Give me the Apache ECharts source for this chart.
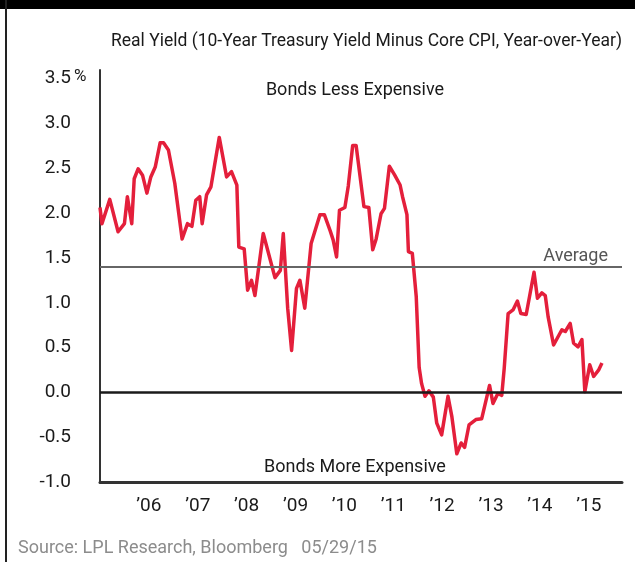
<!DOCTYPE html>
<html>
<head>
<meta charset="utf-8">
<title>Real Yield</title>
<script src="https://cdn.jsdelivr.net/npm/echarts@6/dist/echarts.min.js"></script>
<style>
  html, body { margin: 0; padding: 0; background: #fff; }
  #chart { width: 635px; height: 562px; }
</style>
</head>
<body>
<div id="chart"></div>
<script>
// x positions as decimal years, values in %
const dates = [
  2005.00, 2005.04, 2005.20, 2005.37, 2005.50, 2005.56, 2005.65, 2005.70, 2005.78, 2005.87, 2005.96,
  2006.04, 2006.13, 2006.23, 2006.30, 2006.40, 2006.53, 2006.68, 2006.79, 2006.88, 2006.96,
  2007.04, 2007.09, 2007.18, 2007.27, 2007.44, 2007.59, 2007.69, 2007.80, 2007.84, 2007.95,
  2008.02, 2008.10, 2008.17, 2008.34, 2008.58, 2008.69, 2008.75, 2008.84, 2008.92,
  2009.02, 2009.09, 2009.19, 2009.32, 2009.50, 2009.59, 2009.71, 2009.77, 2009.84, 2009.90,
  2010.01, 2010.08, 2010.17, 2010.24, 2010.40, 2010.50, 2010.58, 2010.65, 2010.75, 2010.82, 2010.92,
  2011.03, 2011.14, 2011.19, 2011.28, 2011.31, 2011.39, 2011.47, 2011.53, 2011.58, 2011.65, 2011.73, 2011.82, 2011.89, 2011.99,
  2012.12, 2012.20, 2012.30, 2012.39, 2012.46, 2012.55, 2012.69, 2012.81, 2012.97,
  2013.04, 2013.14, 2013.22, 2013.27, 2013.35, 2013.45, 2013.54, 2013.61, 2013.72, 2013.88, 2013.95,
  2014.04, 2014.11, 2014.17, 2014.28, 2014.45, 2014.52, 2014.62, 2014.69, 2014.78, 2014.86, 2014.92,
  2015.02, 2015.10, 2015.20, 2015.27
];
const realYield = [
  2.06, 1.88, 2.15, 1.79, 1.88, 2.18, 1.88, 2.38, 2.49, 2.42, 2.22,
  2.40, 2.51, 2.78, 2.78, 2.70, 2.33, 1.71, 1.88, 1.85, 2.14,
  2.18, 1.88, 2.20, 2.29, 2.84, 2.40, 2.46, 2.31, 1.62, 1.60,
  1.14, 1.25, 1.08, 1.77, 1.28, 1.36, 1.77, 0.94, 0.47,
  1.16, 1.25, 0.94, 1.66, 1.98, 1.98, 1.80, 1.70, 1.51, 2.03,
  2.06, 2.30, 2.75, 2.75, 2.07, 2.06, 1.59, 1.71, 1.99, 2.05, 2.52,
  2.42, 2.31, 2.18, 1.98, 1.57, 1.55, 1.07, 0.28, 0.10, -0.04, 0.02, -0.05, -0.34, -0.47,
  -0.04, -0.27, -0.68, -0.56, -0.61, -0.36, -0.30, -0.29, 0.08,
  -0.12, -0.01, -0.03, 0.27, 0.88, 0.92, 1.02, 0.88, 0.87, 1.34, 1.05,
  1.11, 1.08, 0.84, 0.53, 0.70, 0.68, 0.77, 0.55, 0.51, 0.59, 0.01,
  0.31, 0.18, 0.25, 0.33
];
const tickYears = [2006, 2007, 2008, 2009, 2010, 2011, 2012, 2013, 2014, 2015];
const tickLabels = ['\u201906', '\u201907', '\u201908', '\u201909', '\u201910', '\u201911', '\u201912', '\u201913', '\u201914', '\u201915'];
const average = 1.4;

const font = 'Roboto';
const chart = echarts.init(document.getElementById('chart'));

chart.setOption({
  animation: false,
  backgroundColor: '#fff',
  grid: { left: 100, right: 13, top: 70, bottom: 79.5 },
  xAxis: {
    type: 'value',
    min: 2005,
    max: 2015.68,
    interval: 1,
    axisLine: { show: true, onZero: false, lineStyle: { color: '#333', width: 3 } },
    axisTick: { show: false },
    splitLine: { show: false },
    axisLabel: {
      margin: 14,
      color: '#1a1a1a',
      fontFamily: font,
      fontSize: 19,
      formatter: function (v) {
        const k = tickYears.indexOf(Math.round(v));
        return (Math.abs(v - Math.round(v)) < 1e-6 && k >= 0) ? tickLabels[k] : '';
      }
    }
  },
  yAxis: {
    type: 'value',
    min: -1,
    max: 3.59,
    interval: 0.5,
    axisLine: { show: true, lineStyle: { color: '#333', width: 2 } },
    axisTick: { show: false },
    splitLine: { show: false },
    axisLabel: {
      margin: 29,
      color: '#1a1a1a',
      fontFamily: font,
      fontSize: 19,
      formatter: function (v) {
        return Math.abs(v * 2 - Math.round(v * 2)) < 1e-6 ? v.toFixed(1) : '';
      }
    }
  },
  series: [
    {
      // reference lines
      type: 'line',
      data: [],
      z: 1,
      markLine: {
        silent: true,
        symbol: ['none', 'none'],
        label: { show: false },
        data: [
          { yAxis: 0, lineStyle: { color: '#1a1a1a', width: 2.5, type: 'solid' } },
          {
            yAxis: average,
            lineStyle: { color: '#666', width: 2, type: 'solid' },
            label: {
              show: true,
              position: 'insideEndTop',
              formatter: 'Average',
              color: '#555',
              fontFamily: font,
              fontSize: 18,
              distance: [14, 1]
            }
          }
        ]
      }
    },
    {
      name: 'Real Yield',
      type: 'line',
      z: 3,
      showSymbol: false,
      data: dates.map((d, i) => [d, realYield[i]]),
      lineStyle: { color: '#e41f3b', width: 3.5, join: 'round' }
    }
  ],
  graphic: [
    { type: 'rect', shape: { x: 0, y: 0, width: 635, height: 9 }, style: { fill: '#000' } },
    { type: 'rect', shape: { x: 5, y: 0, width: 2, height: 562 }, style: { fill: '#222' } },
    {
      type: 'text', left: 111, top: 33,
      style: { text: 'Real Yield (10-Year Treasury Yield Minus Core CPI, Year-over-Year)', fill: '#1a1a1a', font: '17.5px Roboto' }
    },
    {
      type: 'text', left: 74, top: 68,
      style: { text: '%', fill: '#1a1a1a', font: '17px Roboto' }
    },
    {
      type: 'text', x: 355, y: 90,
      style: { text: 'Bonds Less Expensive', fill: '#1a1a1a', font: '18px Roboto', align: 'center', verticalAlign: 'middle' }
    },
    {
      type: 'text', x: 355, y: 467,
      style: { text: 'Bonds More Expensive', fill: '#1a1a1a', font: '18px Roboto', align: 'center', verticalAlign: 'middle' }
    },
    {
      type: 'text', left: 18, top: 539,
      style: { text: 'Source: LPL Research, Bloomberg   05/29/15', fill: '#8c8c8c', font: '18px Roboto' }
    }
  ]
});
</script>
</body>
</html>
